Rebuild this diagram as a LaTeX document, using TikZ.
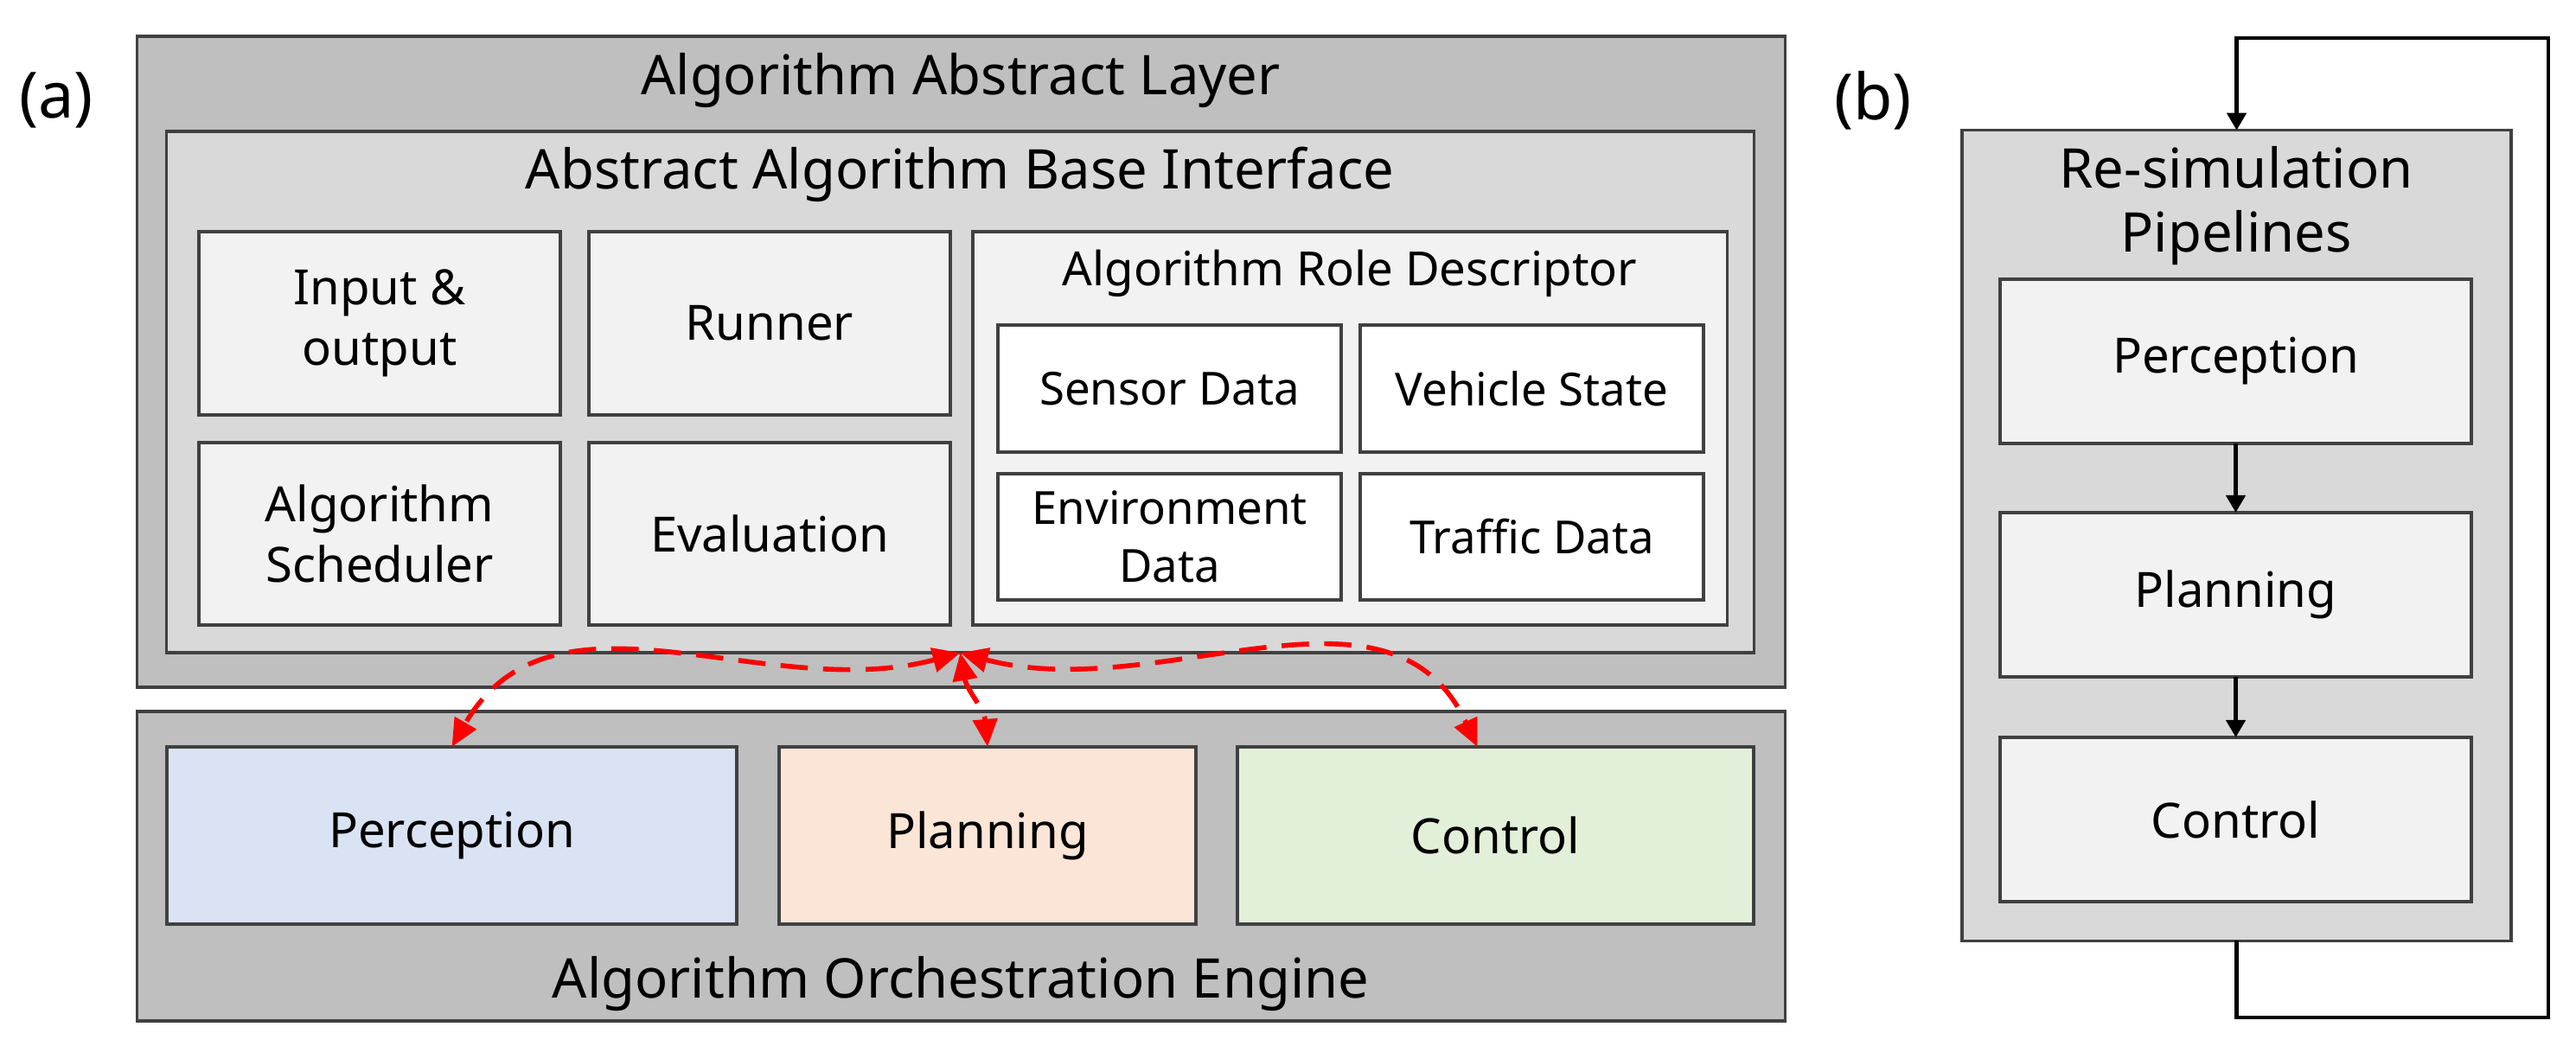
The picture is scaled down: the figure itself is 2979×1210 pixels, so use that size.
\documentclass[tikz,border=0pt]{standalone}
\usepackage{fontspec}
\setmainfont{Noto Sans}
\usetikzlibrary{arrows.meta}
\definecolor{layergray}{HTML}{BFBFBF}
\definecolor{basegray}{HTML}{D9D9D9}
\definecolor{cellgray}{HTML}{F2F2F2}
\definecolor{percblue}{HTML}{DAE3F3}
\definecolor{planorange}{HTML}{FBE5D6}
\definecolor{ctrlgreen}{HTML}{E2F0D9}
\tikzset{
  box/.style={draw=black!75, line width=1pt, inner sep=2pt, outer sep=0pt, align=center,
    font=\bfseries\fontsize{16}{20}\selectfont},
  cell/.style={box, fill=cellgray},
  title/.style={font=\bfseries\fontsize{18}{22}\selectfont, align=center},
  link/.style={red, line width=1.6pt, dash pattern=on 9pt off 5pt,
    {Triangle[length=0.32cm,width=0.28cm]}-{Triangle[length=0.32cm,width=0.28cm]}},
  flow/.style={black, line width=1.3pt, -{Triangle[length=0.2cm,width=0.22cm]}}
}
\begin{document}
\begin{tikzpicture}[x=0.01cm, y=-0.01cm]
  \useasboundingbox (0,0) rectangle (2979,1210);

  % (a) algorithm layer
  \node[title, font=\bfseries\fontsize{21}{24}\selectfont] (lbla) at (65,116) {(a)};
  \node[box, fill=layergray, minimum width=19.05cm, minimum height=7.53cm] (layer) at (1111.5,418.5) {};
  \node[title] (layertitle) at (1111,93) {Algorithm Abstract Layer};
  \node[box, fill=basegray, minimum width=18.35cm, minimum height=6.03cm] (iface) at (1110.5,453.5) {};
  \node[title] (ifacetitle) at (1110,202) {Abstract Algorithm Base Interface};

  \node[cell, minimum width=4.18cm, minimum height=2.12cm] (io) at (439,374) {Input \&\\output};
  \node[cell, minimum width=4.18cm, minimum height=2.12cm] (runner) at (890,374) {Runner};
  \node[cell, minimum width=4.18cm, minimum height=2.11cm] (sched) at (439,617.5) {Algorithm\\Scheduler};
  \node[cell, minimum width=4.18cm, minimum height=2.11cm] (eval) at (890,617.5) {Evaluation};

  % role descriptor
  \node[cell, minimum width=8.72cm, minimum height=4.55cm] (role) at (1561,495.5) {};
  \node[font=\bfseries\fontsize{15.5}{19}\selectfont] (roletitle) at (1561,316) {Algorithm Role Descriptor};
  \node[box, fill=white, font=\bfseries\fontsize{15}{19}\selectfont, minimum width=3.97cm, minimum height=1.47cm] (sensor) at (1352.5,449.5) {Sensor Data};
  \node[box, fill=white, font=\bfseries\fontsize{15}{19}\selectfont, minimum width=3.97cm, minimum height=1.47cm] (vehicle) at (1771.5,449.5) {Vehicle State};
  \node[box, fill=white, font=\bfseries\fontsize{15}{19}\selectfont, minimum width=3.97cm, minimum height=1.46cm] (env) at (1352.5,621) {Environment\\Data};
  \node[box, fill=white, font=\bfseries\fontsize{15}{19}\selectfont, minimum width=3.97cm, minimum height=1.46cm] (traffic) at (1771.5,621) {Traffic Data};

  % orchestration engine
  \node[box, fill=layergray, minimum width=19.05cm, minimum height=3.58cm] (orch) at (1111.5,1002) {};
  \node[title] (orchtitle) at (1111,1138) {Algorithm Orchestration Engine};
  \node[box, fill=percblue, minimum width=6.59cm, minimum height=2.05cm] (perc) at (522.5,966.5) {Perception};
  \node[box, fill=planorange, minimum width=4.82cm, minimum height=2.05cm] (plan) at (1142,966.5) {Planning};
  \node[box, fill=ctrlgreen, minimum width=5.97cm, minimum height=2.05cm] (ctrl) at (1729.5,966.5) {Control};

  \draw[link] (iface.south) to[out=-165,in=60] (perc.north);
  \draw[link] (iface.south) to[out=-80,in=95] (plan.north);
  \draw[link] (iface.south) to[out=-15,in=115] ([xshift=-0.21cm]ctrl.north);

  % (b) re-simulation pipelines
  \node[title, font=\bfseries\fontsize{21}{24}\selectfont] (lblb) at (2166,116) {(b)};
  \node[box, fill=basegray, minimum width=6.35cm, minimum height=9.37cm] (pipe) at (2586.5,619.5) {};
  \node[title, font=\bfseries\fontsize{18}{21}\selectfont] (pipetitle) at (2586,238) {Re-simulation\\Pipelines};
  \node[cell, minimum width=5.45cm, minimum height=1.9cm] (pperc) at (2585.5,418) {Perception};
  \node[cell, minimum width=5.45cm, minimum height=1.9cm] (pplan) at (2585.5,688) {Planning};
  \node[cell, minimum width=5.45cm, minimum height=1.9cm] (pctrl) at (2585.5,948) {Control};

  \draw[flow] (pperc) -- (pplan);
  \draw[flow] (pplan) -- (pctrl);
  \coordinate (loopbr) at (2947,1177);
  \coordinate (looptr) at (2947,44);
  \draw[flow] (pipe.south) |- (loopbr) -- (looptr) -| (pipe.north);
\end{tikzpicture}
\end{document}
